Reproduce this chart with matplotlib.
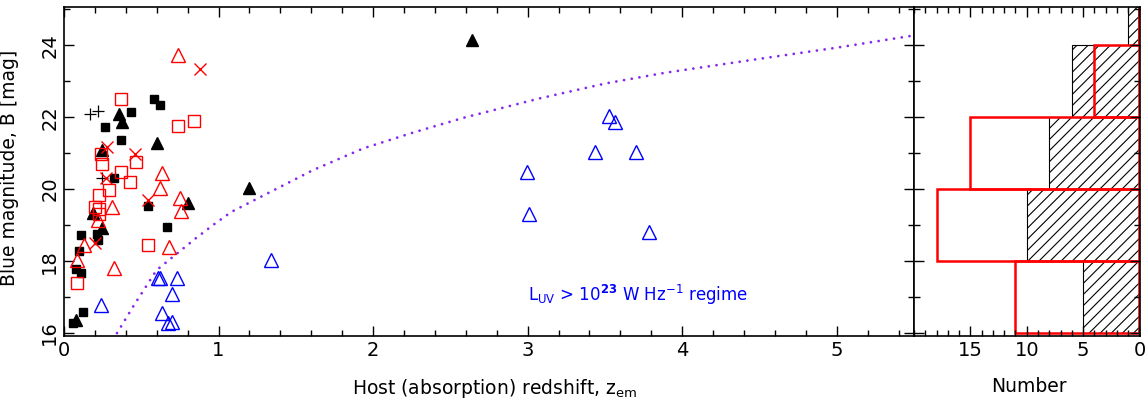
import matplotlib
matplotlib.use("Agg")
import matplotlib.pyplot as plt
from matplotlib.ticker import MultipleLocator

# black filled squares (z, B)
sq_black_z = [0.584, 0.62, 0.433, 0.267, 0.368, 0.325, 0.545, 0.668, 0.108, 0.215,
              0.222, 0.100, 0.078, 0.108, 0.124, 0.060]
sq_black_b = [22.50, 22.33, 22.13, 21.72, 21.36, 20.30, 19.53, 18.94, 18.72, 18.75,
              18.58, 18.29, 17.78, 17.66, 16.59, 16.27]

# black filled triangles
tri_black_z = [2.64, 1.196, 0.357, 0.373, 0.599, 0.244, 0.80, 0.19, 0.244, 0.078]
tri_black_b = [24.14, 20.03, 22.10, 21.87, 21.29, 21.08, 19.62, 19.34, 18.91, 16.36]

# black plus signs
plus_z = [0.168, 0.222, 0.244]
plus_b = [22.08, 22.17, 20.31]

# red open squares
sq_red_z = [0.368, 0.735, 0.842, 0.237, 0.244, 0.465, 0.368, 0.426, 0.292, 0.228,
            0.200, 0.228, 0.228, 0.545, 0.086]
sq_red_b = [22.50, 21.76, 21.90, 20.97, 20.71, 20.76, 20.48, 20.20, 19.97, 19.83,
            19.51, 19.44, 19.30, 18.44, 17.40]

# red open triangles
tri_red_z = [0.739, 0.636, 0.62, 0.312, 0.75, 0.756, 0.222, 0.129, 0.68, 0.086, 0.323]
tri_red_b = [23.72, 20.44, 20.02, 19.51, 19.74, 19.40, 19.14, 18.44, 18.40, 18.03, 17.80]

# red crosses
x_red_z = [0.879, 0.276, 0.459, 0.27, 0.545, 0.20]
x_red_b = [23.33, 21.18, 20.99, 20.31, 19.71, 18.49]

# blue open triangles
tri_blue_z = [3.525, 3.568, 3.439, 3.702, 2.995, 3.012, 3.783, 1.338, 0.237, 0.605,
              0.62, 0.728, 0.696, 0.636, 0.67, 0.699]
tri_blue_b = [22.03, 21.87, 21.04, 21.04, 20.48, 19.32, 18.81, 18.03, 16.78, 17.53,
              17.53, 17.52, 17.10, 16.55, 16.27, 16.30]

# L_UV = 1e23 W/Hz limit
lim_z = [0.343, 0.459, 0.485, 0.599, 0.857, 0.97, 1.084, 1.612, 1.935, 2.258,
         2.592, 3.077, 3.508, 3.885, 4.5, 5.0, 5.5]
lim_b = [16.00, 16.82, 16.99, 17.75, 18.65, 19.02, 19.37, 20.53, 21.13, 21.57,
         21.99, 22.52, 22.94, 23.23, 23.62, 23.93, 24.27]

# histograms of B, bins of 2 mag
bin_lo = [16, 18, 20, 22, 24]
hist_black = [5, 10, 8, 6, 1]
hist_red = [11, 18, 15, 4, 0]

plt.rcParams['hatch.linewidth'] = 0.8

fig = plt.figure(figsize=(11.48, 4.11), dpi=100)
ax = fig.add_axes([64/1148, 1-336/411, 850/1148, 329/411])
axh = fig.add_axes([914/1148, 1-336/411, 226/1148, 329/411])

ax.plot(lim_z, lim_b, color='#8427f0', lw=2.0, ls=(0, (0.01, 2.8)), dash_capstyle='round')

ax.plot(sq_black_z, sq_black_b, 's', color='black', ms=5.5, ls='none')
ax.plot(tri_black_z, tri_black_b, '^', color='black', ms=9, ls='none')
ax.plot(plus_z, plus_b, '+', color='black', ms=9, mew=0.9, ls='none')
ax.plot(sq_red_z, sq_red_b, 's', mfc='none', mec='red', ms=8.5, mew=1.0, ls='none')
ax.plot(tri_red_z, tri_red_b, '^', mfc='none', mec='red', ms=9.5, mew=1.0, ls='none')
ax.plot(x_red_z, x_red_b, 'x', color='red', ms=8, mew=1.0, ls='none')
ax.plot(tri_blue_z, tri_blue_b, '^', mfc='none', mec='blue', ms=9.5, mew=1.0, ls='none')

ax.text(3.0, 17.05, r'L$_{\rm UV}$ > 10$^{\bf 23}$ W Hz$^{-1}$ regime', color='blue',
        fontsize=12, va='center', ha='left')

ax.set_xlim(0, 5.5)
ax.set_ylim(15.92, 25.06)
ax.xaxis.set_major_locator(MultipleLocator(1))
ax.xaxis.set_minor_locator(MultipleLocator(0.2))
ax.yaxis.set_major_locator(MultipleLocator(2))
ax.yaxis.set_minor_locator(MultipleLocator(1))
ax.tick_params(which='both', direction='in', top=True, right=True, width=1.0, labelsize=14)
ax.tick_params(which='major', length=7)
ax.tick_params(which='minor', length=4.5)
for lab in ax.get_yticklabels():
    lab.set_rotation(90)
    lab.set_va('center')
ax.set_xlabel(r'Host (absorption) redshift, z$_{\rm em}$', fontsize=13.5)
ax.xaxis.set_label_coords(0.506, -0.125)
ax.set_ylabel('Blue magnitude, B [mag]', fontsize=13.5)
ax.yaxis.set_label_coords(-0.053, 0.51)

axh.barh(bin_lo, hist_black, height=2, align='edge', color='white', edgecolor='black',
         hatch='///', lw=0.8)
axh.barh(bin_lo, hist_red, height=2, align='edge', fill=False, edgecolor='red', lw=1.8)
axh.set_xlim(20, -0.05)
axh.set_ylim(15.92, 25.06)
axh.xaxis.set_major_locator(MultipleLocator(5))
axh.xaxis.set_minor_locator(MultipleLocator(1))
axh.yaxis.set_major_locator(MultipleLocator(2))
axh.yaxis.set_minor_locator(MultipleLocator(1))
axh.set_xticks([15, 10, 5, 0])
axh.tick_params(which='both', direction='in', top=True, right=True, width=1.0,
                labelsize=14, labelleft=False)
axh.tick_params(which='major', length=7)
axh.tick_params(which='minor', length=4.5)
axh.set_xlabel('Number', fontsize=13.5)
axh.xaxis.set_label_coords(0.51, -0.125)

for a in (ax, axh):
    for s in a.spines.values():
        s.set_linewidth(1.2)

fig.savefig('out.png', dpi=100)
